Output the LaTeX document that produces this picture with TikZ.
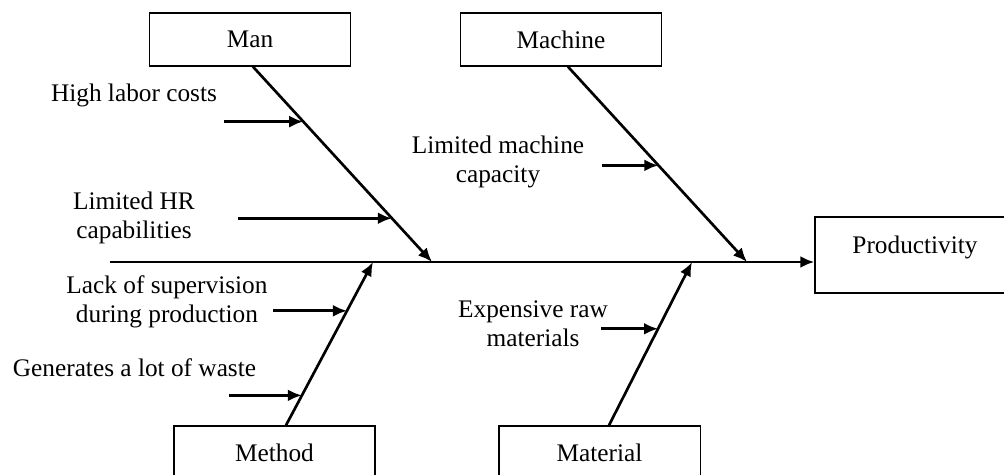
\documentclass[tikz,border=0pt]{standalone}
\usepackage{fontspec}
\setmainfont{Liberation Serif}
\usetikzlibrary{arrows.meta,calc}

\begin{document}
\begin{tikzpicture}[x=0.025cm, y=-0.025cm,
    font=\fontsize{18}{20.6}\selectfont,
    box/.style={draw, line width=0.9pt, minimum width=5.03cm, minimum height=1.33cm, inner sep=0pt},
    cause/.style={align=center, inner sep=0pt},
    bone/.style={line width=1.9pt, -{Latex[length=10pt,width=8.5pt]}},
    twig/.style={line width=1.9pt, -{Latex[length=10pt,width=8.5pt]}}]

    % Canvas
    \useasboundingbox (0,0) rectangle (1004,474);

    % Category boxes
    \node[box] (man) at (250,39.5) {Man};
    \node[box] (machine) at (561,39.5) {Machine};
    \node[box] (method) at (274.5,452.5) {Method};
    \node[box] (material) at (599.5,452.5) {Material};
    \node[box, minimum width=5cm, minimum height=1.9cm, text depth=0.5cm] (prod) at (915,255) {Productivity};

    % Spine
    \coordinate (tail) at (110,262);
    \draw[bone] (tail) -- (tail -| prod.west);

    % Bones
    \coordinate (sman) at ($(man.south)+(3,0)$);
    \coordinate (smach) at ($(machine.south)+(7,0)$);
    \coordinate (smeth) at ($(method.north)+(11.5,0)$);
    \coordinate (smat) at ($(material.north)+(9.5,0)$);
    \coordinate (jman) at (432,262);
    \coordinate (jmach) at (747,262);
    \coordinate (jmeth) at (373,262);
    \coordinate (jmat) at (692,262);
    \draw[bone] (sman) -- (jman);
    \draw[bone] (smach) -- (jmach);
    \draw[bone] (smeth) -- (jmeth);
    \draw[bone] (smat) -- (jmat);

    % Causes
    \node[cause] (tlabor) at (134,95) {High labor costs};
    \node[cause] (thr) at (134,217.5) {Limited HR\\capabilities};
    \node[cause] (tmach) at (498,162) {Limited machine\\capacity};
    \node[cause] (tsup) at (167,302) {Lack of supervision\\during production};
    \node[cause] (twaste) at (134.5,368) {Generates a lot of waste};
    \node[cause] (traw) at (533,324) {Expensive raw\\materials};

    % Twigs
    \coordinate (plabor) at ($(sman)!0.281!(jman)$);
    \coordinate (phr) at ($(sman)!0.776!(jman)$);
    \coordinate (pmach) at ($(smach)!0.505!(jmach)$);
    \coordinate (psup) at ($(smeth)!0.701!(jmeth)$);
    \coordinate (pwaste) at ($(smeth)!0.183!(jmeth)$);
    \coordinate (praw) at ($(smat)!0.591!(jmat)$);
    \coordinate (flabor) at (224,0);
    \coordinate (fhr) at (238,0);
    \coordinate (fmach) at (602,0);
    \coordinate (fsup) at (273,0);
    \coordinate (fwaste) at (229,0);
    \coordinate (fraw) at (601,0);
    \draw[twig] (flabor |- plabor) -- (plabor);
    \draw[twig] (fhr |- phr) -- (phr);
    \draw[twig] (fmach |- pmach) -- (pmach);
    \draw[twig] (fsup |- psup) -- (psup);
    \draw[twig] (fwaste |- pwaste) -- (pwaste);
    \draw[twig] (fraw |- praw) -- (praw);
\end{tikzpicture}
\end{document}
